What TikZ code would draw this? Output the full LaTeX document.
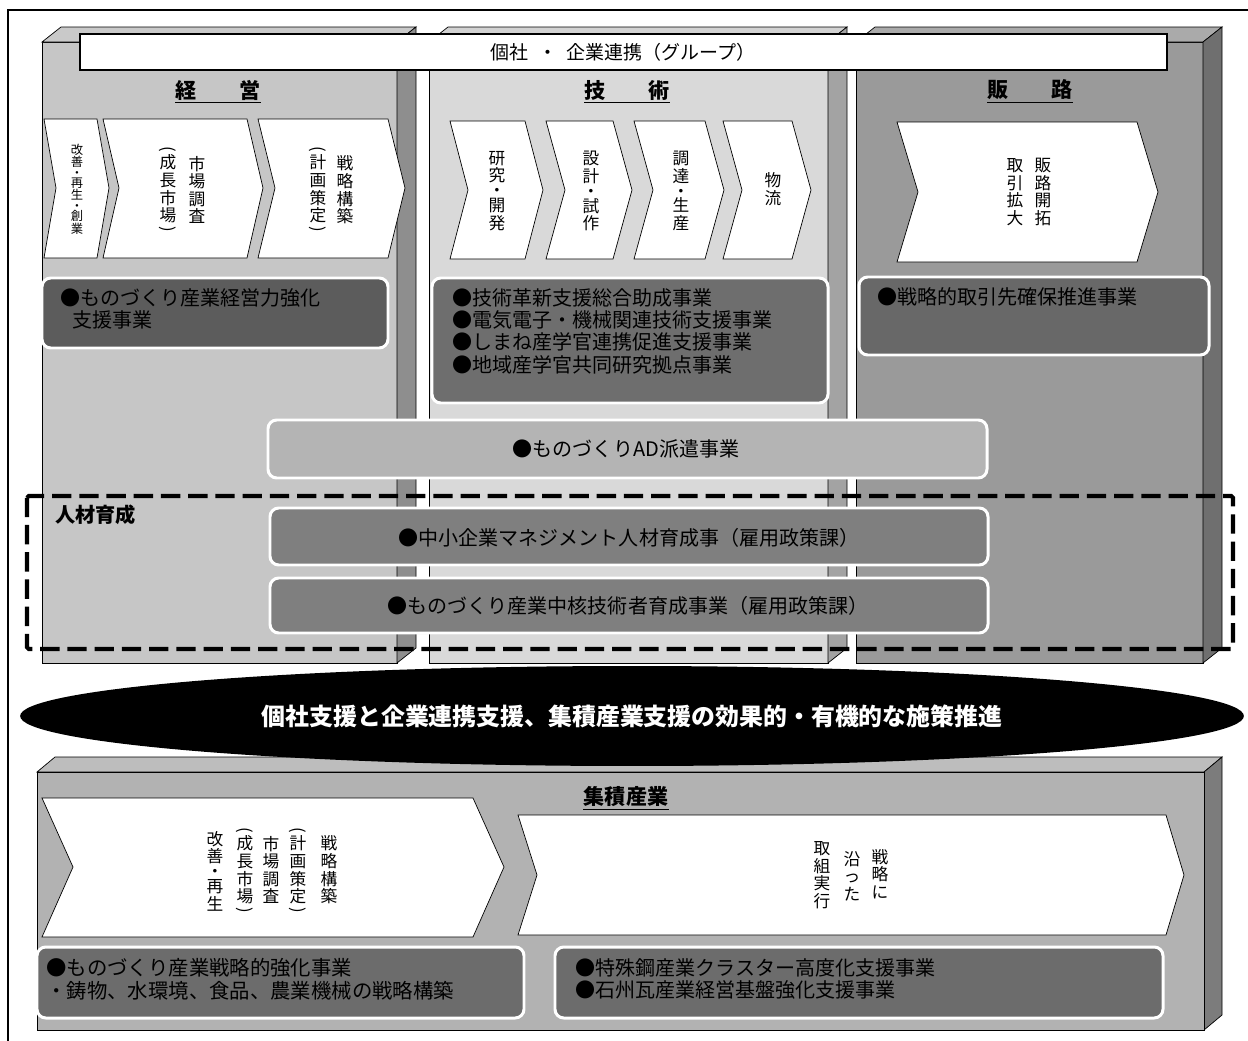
\documentclass[tikz,border=0pt]{standalone}
\usepackage{fontspec}
\setmainfont{Noto Sans CJK JP}
\usetikzlibrary{shapes.geometric,shadows}
\definecolor{keieiFront}{HTML}{C6C6C6}
\definecolor{keieiTop}{HTML}{C9C9C9}
\definecolor{keieiSide}{HTML}{8E8E8E}
\definecolor{gijutsuFront}{HTML}{D9D9D9}
\definecolor{gijutsuTop}{HTML}{D2D2D2}
\definecolor{gijutsuSide}{HTML}{A3A3A3}
\definecolor{hanroFront}{HTML}{9A9A9A}
\definecolor{hanroTop}{HTML}{AAAAAA}
\definecolor{hanroSide}{HTML}{6F6F6F}
\definecolor{shuFront}{HTML}{B2B2B2}
\definecolor{shuTop}{HTML}{BDBDBD}
\definecolor{shuSide}{HTML}{7C7C7C}
\definecolor{cardKeiei}{HTML}{5C5C5C}
\definecolor{cardGijutsu}{HTML}{6E6E6E}
\definecolor{cardHanro}{HTML}{686868}
\definecolor{cardAD}{HTML}{B4B4B4}
\definecolor{cardJinzai}{HTML}{7F7F7F}
\definecolor{cardShu}{HTML}{6C6C6C}
\begin{document}
\begin{tikzpicture}[x=0.02cm,y=-0.02cm,
  face/.style={draw=black,line width=0.4pt},
  chev/.style={draw=black,line width=0.4pt,fill=white},
  card/.style={draw=white,line width=1.7pt,rounded corners=5pt,
    drop shadow={shadow xshift=0.7pt,shadow yshift=-0.7pt,opacity=0.35}},
  vt/.style={align=center,inner sep=0pt,font=\fontsize{9.5pt}{10pt}\selectfont},
  paren/.style={inner sep=0pt,rotate=-90,font=\fontsize{9.5pt}{10pt}\selectfont},
  txt/.style={inner sep=0pt,align=left,font=\fontsize{11.4pt}{12.8pt}\selectfont},
  ttl/.style={inner sep=0pt,font=\fontsize{12pt}{14pt}\selectfont\bfseries}]
\useasboundingbox (0,0) rectangle (1248,1041);
\draw[line width=1.1pt] (8,1041) -- (8,10) -- (1248,10);

\draw[face,fill=shuTop] (37,772) -- (55,757) -- (1222,757) -- (1204,772) -- cycle;
\draw[face,fill=shuSide] (1204,772) -- (1222,757) -- (1222,1015) -- (1204,1030) -- cycle;
\draw[face,fill=shuFront] (37,772) rectangle (1204,1030);

\draw[face,fill=keieiFront] (42,42) rectangle (397,663);
\draw[face,fill=keieiTop] (42,42) -- (61,27) -- (416,27) -- (397,42) -- cycle;
\draw[face,fill=keieiSide] (397,42) -- (416,27) -- (416,648) -- (397,663) -- cycle;
\draw[face,fill=gijutsuFront] (429,42) rectangle (828,663);
\draw[face,fill=gijutsuTop] (429,42) -- (448,27) -- (847,27) -- (828,42) -- cycle;
\draw[face,fill=gijutsuSide] (828,42) -- (847,27) -- (847,648) -- (828,663) -- cycle;
\draw[face,fill=hanroFront] (856,42) rectangle (1203,663);
\draw[face,fill=hanroTop] (856,42) -- (875,27) -- (1222,27) -- (1203,42) -- cycle;
\draw[face,fill=hanroSide] (1203,42) -- (1222,27) -- (1222,648) -- (1203,663) -- cycle;

\draw[fill=white,line width=1.4pt,drop shadow={shadow xshift=0.8pt,shadow yshift=-0.8pt,opacity=0.5}] (80,34) rectangle (1167,70);
\node[inner sep=0pt,font=\fontsize{10.8pt}{12pt}\selectfont] (group) at (623,52) {個社\hspace{0.5em}・\hspace{0.5em}企業連携（グループ）};

\node[ttl] (keiei) at (218,90) {経　　営};
\draw[line width=1pt] ([yshift=-1.2pt]keiei.south west) -- ([yshift=-1.2pt]keiei.south east);
\node[ttl] (gijutsu) at (627,90) {技　　術};
\draw[line width=1pt] ([yshift=-1.2pt]gijutsu.south west) -- ([yshift=-1.2pt]gijutsu.south east);
\node[ttl] (hanro) at (1030,90) {販　　路};
\draw[line width=1pt] ([yshift=-1.2pt]hanro.south west) -- ([yshift=-1.2pt]hanro.south east);

\draw[chev] (44,119) -- (97,119) -- (109,188) -- (97,258) -- (44,258) -- (56,188) -- cycle;
\draw[chev] (103,119) -- (247,119) -- (263,188) -- (247,258) -- (103,258) -- (119,188) -- cycle;
\draw[chev] (258,119) -- (388,119) -- (405,188) -- (388,258) -- (258,258) -- (275,188) -- cycle;
\node[vt,font=\fontsize{7pt}{7.1pt}\selectfont] (kaizen) at (77,189) {改\\善\\[-1.2pt]・\\[-1.2pt]再\\生\\[-1.2pt]・\\[-1.2pt]創\\業};
\node[vt] (shijo) at (197,190) {市\\場\\調\\査};
\node[vt] (seicho) at (168,189) {成\\長\\市\\場};
\node[paren] (seichoL) at (168,149) {(};
\node[paren] (seichoR) at (168,229) {)};
\node[vt] (senryaku) at (345,190) {戦\\略\\構\\築};
\node[vt] (keikaku) at (318,189) {計\\画\\策\\定};
\node[paren] (keikakuL) at (318,149) {(};
\node[paren] (keikakuR) at (318,229) {)};

\draw[chev] (450,121) -- (525,121) -- (543,190) -- (525,259) -- (450,259) -- (468,190) -- cycle;
\draw[chev] (546,121) -- (613,121) -- (632,190) -- (613,259) -- (546,259) -- (565,190) -- cycle;
\draw[chev] (634,121) -- (705,121) -- (724,190) -- (705,259) -- (634,259) -- (653,190) -- cycle;
\draw[chev] (723,121) -- (792,121) -- (811,190) -- (792,259) -- (723,259) -- (742,190) -- cycle;
\node[vt] (kenkyu) at (497,191) {研\\究\\[-1.5pt]・\\[-1.5pt]開\\発};
\node[vt] (sekkei) at (591,191) {設\\計\\[-1.5pt]・\\[-1.5pt]試\\作};
\node[vt] (chotatsu) at (681,191) {調\\達\\[-1.5pt]・\\[-1.5pt]生\\産};
\node[vt] (butsuryu) at (773,189) {物\\流};

\draw[chev] (897,122) -- (1137,122) -- (1158,192) -- (1137,262) -- (897,262) -- (918,192) -- cycle;
\node[vt] (kaitaku) at (1043,192) {販\\路\\開\\拓};
\node[vt] (kakudai) at (1015,192) {取\\引\\拡\\大};

\draw[card,fill=cardKeiei] (42,278) rectangle (388,348);
\node[txt,anchor=west] (keieitxt) at (60,309) {●ものづくり産業経営力強化\\\hspace*{0.6em}支援事業};
\draw[card,fill=cardGijutsu] (432,278) rectangle (828,403);
\node[txt,anchor=west,font=\fontsize{11.4pt}{12.7pt}\selectfont] (gijutsutxt) at (452,331) {●技術革新支援総合助成事業\\●電気電子・機械関連技術支援事業\\●しまね産学官連携促進支援事業\\●地域産学官共同研究拠点事業};
\draw[card,fill=cardHanro] (859,277) rectangle (1209,355);
\node[txt,anchor=west] (hanrotxt) at (877,297) {●戦略的取引先確保推進事業};

\draw[card,fill=cardAD] (268,420) rectangle (987,478);
\node[txt] (ad) at (626,449) {●ものづくりAD派遣事業};

\draw[line width=2.3pt,dash pattern=on 11pt off 4.5pt,rounded corners=1pt] (27,496) rectangle (1233,649);
\node[inner sep=0pt,anchor=west,font=\fontsize{11.5pt}{13pt}\selectfont\bfseries] (jinzai) at (55,515) {人材育成};
\draw[card,fill=cardJinzai] (270,508) rectangle (988,565);
\node[txt] (manage) at (629,538) {●中小企業マネジメント人材育成事（雇用政策課）};
\draw[card,fill=cardJinzai] (270,578) rectangle (988,633);
\node[txt] (chukaku) at (628,606) {●ものづくり産業中核技術者育成事業（雇用政策課）};

\node[ellipse,fill=black,inner sep=0pt,minimum width=24.48cm,minimum height=2cm,text=white,
  font=\fontsize{13.6pt}{15pt}\selectfont\bfseries] (goal) at (632,716) {個社支援と企業連携支援、集積産業支援の効果的・有機的な施策推進};

\node[ttl] (shuseki) at (626,797) {集積産業};
\draw[line width=1pt] ([yshift=-1.2pt]shuseki.south west) -- ([yshift=-1.2pt]shuseki.south east);

\draw[chev] (42,798) -- (473,798) -- (504,867) -- (473,937) -- (42,937) -- (73,867) -- cycle;
\draw[chev] (518,815) -- (1166,815) -- (1184,875) -- (1166,935) -- (518,935) -- (537,875) -- cycle;
\node[vt] (bsenryaku) at (329,870) {戦\\略\\構\\築};
\node[vt] (bkeikaku) at (298,870) {計\\画\\策\\定};
\node[paren] (bkeikakuL) at (298,830) {(};
\node[paren] (bkeikakuR) at (298,910) {)};
\node[vt] (bshijo) at (271,870) {市\\場\\調\\査};
\node[vt] (bseicho) at (245,870) {成\\長\\市\\場};
\node[paren] (bseichoL) at (245,830) {(};
\node[paren] (bseichoR) at (245,910) {)};
\node[vt] (bkaizen) at (215,871) {改\\善\\[-1.5pt]・\\[-1.5pt]再\\生};
\node[vt] (sotta1) at (880,874) {戦\\略\\に};
\node[vt] (sotta2) at (852,876) {沿\\っ\\た};
\node[vt] (jikko) at (822,875) {取\\組\\実\\行};

\draw[card,fill=cardShu] (37,947) rectangle (524,1018);
\node[txt,anchor=west,font=\fontsize{11.6pt}{13pt}\selectfont] (shutxt1) at (46,979) {●ものづくり産業戦略的強化事業\\・鋳物、水環境、食品、農業機械の戦略構築};
\draw[card,fill=cardShu] (555,947) rectangle (1163,1018);
\node[txt,anchor=west] (shutxt2) at (575,979) {●特殊鋼産業クラスター高度化支援事業\\●石州瓦産業経営基盤強化支援事業};
\end{tikzpicture}
\end{document}
